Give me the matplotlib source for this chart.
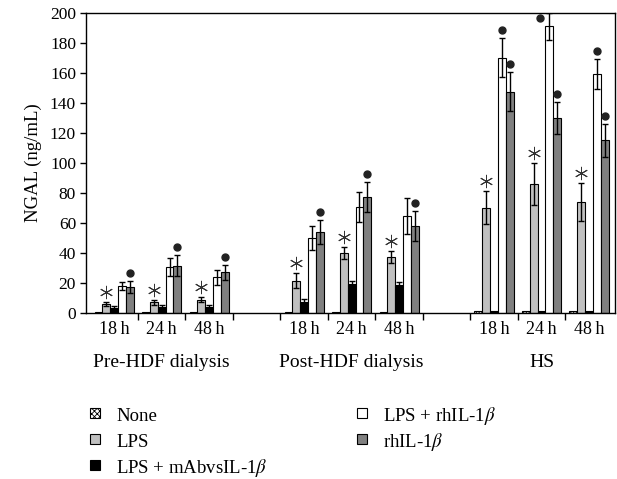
import numpy as np
import matplotlib
matplotlib.use('Agg')
import matplotlib.pyplot as plt
from matplotlib.transforms import offset_copy
from matplotlib.patches import Rectangle

plt.rcParams['font.family'] = ['Liberation Serif', 'DejaVu Serif']
plt.rcParams['mathtext.fontset'] = 'stix'
plt.rcParams['hatch.linewidth'] = 0.6

groups = ['Pre-HDF dialysis', 'Post-HDF dialysis', 'HS']
times = ['18\u2009h', '24\u2009h', '48\u2009h']

# one value per time point (Pre 18/24/48, Post 18/24/48, HS 18/24/48)
none_vals = [0.5, 0.5, 0.5, 0.5, 0.5, 0.5, 1, 1, 1]
lps = [6, 7, 8.7, 21.5, 40, 37, 70, 85.7, 73.8]
lps_err = [1.5, 1.5, 1.5, 5, 4, 4, 11, 14, 12.5]
mab = [3, 4, 4, 7, 19.5, 18.4, 1, 1, 1]
mab_err = [1.5, 1, 1, 2, 2, 2, 0, 0, 0]
lps_rh = [18, 30.4, 23.7, 50, 70.3, 64.6, 170, 191, 159.5]
lps_rh_err = [2.5, 6, 5, 8, 10, 12, 13, 9, 10]
rh = [17, 31.3, 27, 54, 77, 58, 147.4, 130, 115]
rh_err = [4, 7, 5, 8, 10, 10, 13, 10.5, 11]

# significance marks
lps_star = [1, 1, 1, 1, 1, 1, 1, 1, 1]
lps_rh_dot = [0, 0, 0, 0, 0, 0, 1, 1, 1]
rh_dot = [1, 1, 1, 1, 1, 1, 1, 1, 1]

labels = ['None', 'LPS', r'LPS + mAbvsIL-1$\beta$', r'LPS + rhIL-1$\beta$', r'rhIL-1$\beta$']
colors = ['white', '#c0c0c0', 'black', 'white', '#808080']
hatches = ['xxxxxx', None, None, None, None]

# category positions, one empty slot between groups
pos = np.array([g * 4 + t for g in range(3) for t in range(3)], dtype=float)

W, H = 617, 479
fig = plt.figure(figsize=(W / 100, H / 100), dpi=100)
ax = fig.add_axes([0.139, 0.347, 0.858, 0.626])

w = 0.165
series = [(none_vals, None), (lps, lps_err), (mab, mab_err), (lps_rh, lps_rh_err), (rh, rh_err)]
for i, (vals, errs) in enumerate(series):
    x = pos + (i - 2) * w
    ax.bar(x, vals, width=w, color=colors[i], edgecolor='black', linewidth=0.8,
           hatch=hatches[i], zorder=2)
    if errs is not None:
        e = np.array(errs)
        m = e > 0
        ax.errorbar(x[m], np.array(vals)[m], yerr=e[m], fmt='none', ecolor='black',
                    elinewidth=1.0, capsize=2.5, capthick=1.0, zorder=3)

up8 = offset_copy(ax.transData, fig=fig, y=8, units='dots')
up10 = offset_copy(ax.transData, fig=fig, y=10, units='dots')
left = offset_copy(ax.transData, fig=fig, x=-9, y=-5, units='dots')

for k in range(9):
    if lps_star[k]:
        ax.plot(pos[k] - w, lps[k] + lps_err[k], marker=(6, 2, 0), ms=9.5, mew=0.7,
                color='#333333', transform=up10, clip_on=False)
    if lps_rh_dot[k]:
        top = lps_rh[k] + lps_rh_err[k]
        tr = left if top > 195 else up8
        ax.plot(pos[k] + w, top, 'o', ms=5, color='#222222', transform=tr, clip_on=False)
    if rh_dot[k]:
        ax.plot(pos[k] + 2 * w, rh[k] + rh_err[k], 'o', ms=5, color='#222222',
                transform=up8, clip_on=False)

ax.set_xlim(-0.6, 10.55)
ax.set_ylim(0, 200)
ax.set_yticks(range(0, 201, 20))
ax.set_xticks(np.arange(0.5, 10, 1.0))
ax.set_xticklabels([])
ax.tick_params(axis='x', direction='out', length=5, width=1)
ax.tick_params(axis='y', direction='out', length=4, width=1, labelsize=12.5, pad=3)
for s in ax.spines.values():
    s.set_linewidth(1)
ax.set_ylabel('NGAL (ng/mL)', fontsize=13.5, labelpad=6)

tr = ax.get_xaxis_transform()
for k in range(9):
    ax.text(pos[k], -0.057, times[k % 3], transform=tr, ha='center', va='center', fontsize=13)
for g in range(3):
    ax.text(g * 4 + 1, -0.167, groups[g], transform=tr, ha='center', va='center', fontsize=14)

# legend laid out by hand in pixel units (two columns, fixed rows)
col_x = [90, 357]
row_y = [421, 447, 473]
slots = [(0, 0), (0, 1), (0, 2), (1, 0), (1, 1)]
for i, (c, r) in enumerate(slots):
    x0, yb = col_x[c], row_y[r]
    fig.add_artist(Rectangle((x0 / W, 1 - (yb - 3) / H), 10 / W, 10 / H,
                             transform=fig.transFigure, facecolor=colors[i],
                             edgecolor='black', linewidth=0.8, hatch=hatches[i]))
    fig.text((x0 + 26) / W, 1 - yb / H, labels[i], fontsize=13.5, ha='left', va='baseline')

fig.savefig('out.png', dpi=100)
